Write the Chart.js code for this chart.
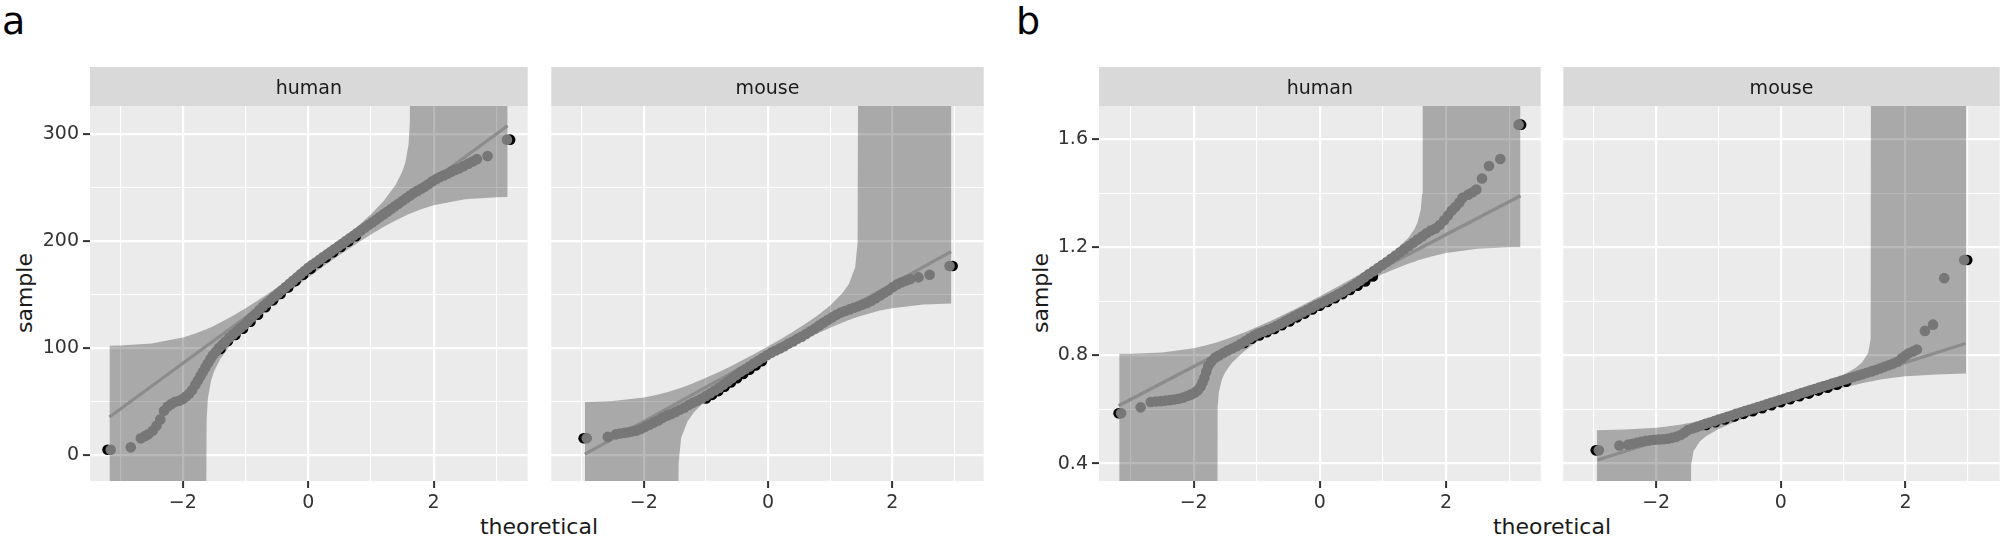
<!DOCTYPE html>
<html>
<head>
<meta charset="utf-8">
<script src="https://cdn.jsdelivr.net/npm/chart.js@4.4.1/dist/chart.umd.min.js"></script>
<style>
  body { margin: 0; background: #fff; width: 2007px; height: 540px; position: relative; overflow: hidden; font-family: "DejaVu Sans", sans-serif; }
  .panel { position: absolute; top: 67px; height: 464px; }
  .tag { position: absolute; top: 2px; font-size: 38px; line-height: 38px; color: #000; }
  .ylab { position: absolute; font-size: 22px; line-height: 22px; color: #1a1a1a; transform: translate(-50%, -50%) rotate(-90deg); white-space: nowrap; }
  .xlab { position: absolute; top: 516px; font-size: 22px; line-height: 22px; color: #1a1a1a; transform: translateX(-50%); white-space: nowrap; }
</style>
</head>
<body>
<div class="tag" style="left:2px">a</div>
<div class="tag" style="left:1016px">b</div>
<div class="ylab" style="left:25px;top:293px">sample</div>
<div class="ylab" style="left:1041px;top:293px">sample</div>
<div class="xlab" style="left:539px">theoretical</div>
<div class="xlab" style="left:1552px">theoretical</div>

<div class="panel" style="left:0px;width:533px"><canvas id="aHuman"></canvas></div>
<div class="panel" style="left:546px;width:443px"><canvas id="aMouse"></canvas></div>
<div class="panel" style="left:1009px;width:537px"><canvas id="bHuman"></canvas></div>
<div class="panel" style="left:1558px;width:447px"><canvas id="bMouse"></canvas></div>

<script>
// tick values (grid lines); only every other one gets a label
const xTicks = [-3, -2, -1, 0, 1, 2, 3];
const yTicksA = [0, 50, 100, 150, 200, 250, 300];
const yTicksB = [0.4, 0.6, 0.8, 1.0, 1.2, 1.4, 1.6];

// ---- panel a, human ----
const haX = [-3.15, -2.83, -2.67, -2.60, -2.55, -2.48, -2.42, -2.36, -2.30, -2.24, -2.18, -2.12, -2.06, -2.00,
  -1.95, -1.90, -1.85, -1.80, -1.76, -1.72, -1.68, -1.64, -1.60, -1.56, -1.52, -1.47, -1.42, -1.37, -1.32, -1.26, -1.20,
  -1.14, -1.08, -1.02, -0.96, -0.90, -0.84, -0.78, -0.72, -0.66, -0.60, -0.54, -0.48, -0.42, -0.36, -0.30, -0.24, -0.18, -0.12, -0.06, 0.00,
  0.06, 0.12, 0.18, 0.24, 0.30, 0.36, 0.42, 0.48, 0.54, 0.60, 0.66, 0.72, 0.78, 0.84, 0.90, 0.96,
  1.02, 1.08, 1.14, 1.20, 1.26, 1.32, 1.38, 1.44, 1.50, 1.56, 1.62, 1.68, 1.74, 1.80, 1.86, 1.92, 1.98,
  2.04, 2.10, 2.16, 2.22, 2.28, 2.34, 2.40, 2.48, 2.55, 2.62, 2.69, 2.86, 3.17];
const haY = [4.6, 6.8, 15.3, 17.5, 19.0, 22.4, 27.0, 33.0, 41.0, 45.0, 47.5, 49.5, 50.5, 52.0,
  54.5, 57.0, 60.5, 65.5, 69.5, 73.5, 77.5, 81.5, 85.5, 89.5, 93.0, 96.5, 100.0, 103.0, 106.0, 109.5, 112.5,
  115.5, 118.5, 121.5, 125.0, 128.5, 132.0, 135.5, 139.0, 142.0, 145.0, 148.0, 151.0, 154.0, 157.0, 160.0, 163.0, 166.0, 169.0, 172.0, 175.0,
  177.5, 180.0, 182.5, 185.0, 187.5, 190.0, 192.5, 195.0, 197.5, 200.0, 202.5, 205.0, 207.5, 210.0, 212.5, 215.0,
  217.5, 220.0, 222.5, 225.0, 227.5, 230.0, 232.5, 235.0, 237.5, 240.0, 242.5, 245.0, 247.0, 249.0, 251.0, 253.5, 256.0,
  258.0, 260.0, 261.5, 263.0, 265.0, 266.5, 268.0, 270.2, 272.5, 274.5, 276.7, 279.6, 295.0];
const haBlackX = [-3.20, -1.40, -1.28, -1.16, -1.04, -0.92, -0.80, -0.68, -0.56, -0.44, -0.32, -0.20, -0.08, 0.04, 0.16, 0.28, 0.40, 0.52, 0.64, 0.76, 3.22];
const haBlackY = [4.6, 99.0, 106.5, 112.0, 118.0, 124.5, 131.0, 138.0, 144.5, 150.5, 156.5, 162.5, 168.5, 174.0, 179.5, 184.5, 189.5, 194.5, 199.5, 204.5, 295.0];
const haLineX = [-3.17, 3.18];
const haLineY = [35.2, 308.0];
const haBandX = [-3.17, -3.0, -2.5, -2.0, -1.8, -1.7, -1.64, -1.63, -1.62, -1.6, -1.55, -1.5, -1.4, -1.2, -1.0, -0.8, -0.6, -0.4, -0.2, 0,
  0.2, 0.4, 0.6, 0.8, 1.0, 1.2, 1.4, 1.5, 1.55, 1.6, 1.62, 1.63, 1.64, 1.7, 1.8, 2.0, 2.5, 3.0, 3.18];
const haBandHi = [102.0, 102.2, 104.1, 109.6, 113.4, 115.7, 117.1, 117.3, 117.6, 118.1, 119.4, 120.8, 123.7, 130.1, 137.0, 144.5, 152.3, 160.3, 168.7, 177.2,
  186.0, 195.1, 204.5, 214.4, 225.1, 237.4, 253.3, 265.1, 273.9, 290.7, 310.9, 400, 400, 400, 400, 400, 400, 400, 400];
const haBandLo = [-100, -100, -100, -100, -100, -100, -100, -100, 32.3, 52.5, 69.3, 78.1, 89.9, 105.8, 118.1, 128.8, 138.7, 148.1, 157.2, 166.0,
  174.5, 182.9, 191.0, 198.7, 206.2, 213.1, 219.5, 222.4, 223.7, 225.1, 225.6, 225.8, 226.0, 227.5, 229.8, 233.6, 239.1, 241.0, 241.2];

// ---- panel a, mouse ----
const maX = [-2.92, -2.58, -2.45, -2.38, -2.31, -2.25, -2.19, -2.12, -2.05, -1.98, -1.91, -1.84, -1.77, -1.70, -1.63, -1.56, -1.49,
  -1.42, -1.35, -1.28, -1.21, -1.14, -1.07, -1.00, -0.93, -0.86, -0.79, -0.72, -0.65, -0.58, -0.51, -0.44, -0.37, -0.30, -0.23, -0.16, -0.09, -0.02,
  0.05, 0.12, 0.19, 0.26, 0.33, 0.40, 0.47, 0.54, 0.61, 0.68, 0.75, 0.82, 0.89, 0.96, 1.03, 1.10, 1.17, 1.24, 1.31, 1.38, 1.45, 1.52, 1.59,
  1.66, 1.73, 1.80, 1.87, 1.94, 2.01, 2.08, 2.15, 2.22, 2.29, 2.42, 2.60, 2.92];
const maY = [15.3, 16.6, 19.0, 19.8, 20.5, 21.0, 21.8, 22.5, 24.0, 26.0, 28.0, 30.0, 32.0, 34.5, 36.5, 38.0, 40.0,
  42.0, 44.0, 46.5, 48.5, 50.5, 52.5, 55.0, 57.5, 60.0, 62.5, 65.5, 68.5, 71.5, 74.5, 77.5, 80.0, 82.5, 85.3, 87.8, 90.5, 93.0,
  95.5, 97.5, 99.5, 101.5, 104.0, 106.0, 108.5, 110.5, 113.0, 115.5, 118.0, 120.8, 123.5, 126.0, 128.5, 131.0, 133.0, 134.5, 136.0, 137.5, 139.0, 140.5, 142.0,
  144.0, 146.5, 149.0, 151.5, 154.0, 157.0, 159.5, 161.5, 163.0, 164.4, 166.0, 168.5, 176.6];
const maBlackX = [-2.97, -1.00, -0.90, -0.80, -0.70, -0.60, -0.50, -0.40, -0.30, -0.20, -0.10, 2.97];
const maBlackY = [15.3, 52.5, 56.0, 59.5, 63.5, 67.5, 71.5, 75.5, 79.5, 83.5, 87.5, 176.6];
const maLineX = [-2.95, 2.945];
const maLineY = [0.4, 190.2];
const maBandX = [-2.95, -2.5, -2.0, -1.8, -1.6, -1.5, -1.46, -1.45, -1.44, -1.4, -1.3, -1.2, -1.0, -0.8, -0.6, -0.4, -0.2, 0,
  0.2, 0.4, 0.6, 0.8, 1.0, 1.2, 1.3, 1.4, 1.44, 1.45, 1.46, 1.6, 1.8, 2.0, 2.5, 2.95];
const maBandHi = [49.2, 50.2, 53.6, 55.9, 59.0, 60.8, 61.5, 61.7, 61.9, 62.7, 64.8, 67.1, 71.9, 77.2, 82.8, 88.8, 95.0, 101.4,
  108.1, 115.1, 122.5, 130.5, 139.7, 151.5, 159.9, 175.2, 198.4, 400, 400, 400, 400, 400, 400, 400];
const maBandLo = [-100, -100, -100, -100, -100, -100, -100, -100, -7.6, 15.6, 30.9, 39.3, 51.1, 60.3, 68.3, 75.7, 82.7, 89.4,
  95.8, 102.0, 108.0, 113.6, 118.9, 123.7, 126.0, 128.1, 128.9, 129.1, 129.3, 131.8, 134.9, 137.2, 140.6, 141.6];

// ---- panel b, human ----
const hbX = [-3.15, -2.84, -2.68, -2.60, -2.52, -2.45, -2.38, -2.31, -2.24, -2.17, -2.10, -2.04, -1.98,
  -1.93, -1.89, -1.86, -1.83, -1.80, -1.77, -1.72, -1.66, -1.60,
  -1.53, -1.46, -1.39, -1.32, -1.25, -1.18, -1.11, -1.04, -0.97, -0.90, -0.83, -0.76, -0.69, -0.62, -0.55, -0.48, -0.41, -0.34, -0.27, -0.20, -0.13, -0.06,
  0.01, 0.08, 0.15, 0.22, 0.29, 0.36, 0.43, 0.50, 0.57, 0.64, 0.71, 0.78, 0.85, 0.92, 0.99, 1.06, 1.13, 1.20, 1.27, 1.34, 1.41, 1.48, 1.55, 1.62, 1.69, 1.76, 1.83, 1.90,
  1.97, 2.03, 2.09, 2.15, 2.21, 2.26, 2.35, 2.42, 2.48, 2.57, 2.68, 2.86, 3.15];
const hbY = [0.586, 0.608, 0.628, 0.630, 0.631, 0.633, 0.635, 0.637, 0.640, 0.644, 0.650, 0.656, 0.663,
  0.672, 0.685, 0.700, 0.718, 0.740, 0.760, 0.778, 0.792, 0.800,
  0.809, 0.818, 0.826, 0.834, 0.843, 0.853, 0.864, 0.874, 0.882, 0.888, 0.894, 0.901, 0.909, 0.917, 0.926, 0.935, 0.944, 0.952, 0.960, 0.968, 0.977, 0.986,
  0.993, 1.001, 1.009, 1.017, 1.026, 1.035, 1.045, 1.055, 1.066, 1.077, 1.089, 1.101, 1.112, 1.123, 1.135, 1.146, 1.158, 1.170, 1.182, 1.194, 1.205, 1.217, 1.229, 1.240, 1.252, 1.262, 1.270, 1.283,
  1.300, 1.318, 1.336, 1.350, 1.366, 1.383, 1.395, 1.404, 1.414, 1.455, 1.501, 1.527, 1.654];
const hbBlackX = [-3.19, -1.20, -1.08, -0.96, -0.84, -0.72, -0.60, -0.48, -0.36, -0.24, -0.12, 0.00, 0.12, 0.24, 0.36, 0.48, 0.60, 0.72, 0.84, 3.19];
const hbBlackY = [0.586, 0.846, 0.862, 0.874, 0.886, 0.898, 0.912, 0.926, 0.941, 0.955, 0.970, 0.984, 0.998, 1.012, 1.027, 1.042, 1.058, 1.074, 1.092, 1.654];
const hbLineX = [-3.19, 3.18];
const hbLineY = [0.614, 1.391];
const hbBandX = [-3.18, -3.0, -2.5, -2.0, -1.8, -1.7, -1.64, -1.63, -1.62, -1.6, -1.55, -1.5, -1.4, -1.2, -1.0, -0.8, -0.6, -0.4, -0.2, 0,
  0.2, 0.4, 0.6, 0.8, 1.0, 1.2, 1.4, 1.5, 1.55, 1.6, 1.62, 1.63, 1.64, 1.7, 1.8, 2.0, 2.5, 3.0, 3.18];
const hbBandHi = [0.806, 0.806, 0.811, 0.827, 0.838, 0.844, 0.848, 0.849, 0.850, 0.851, 0.855, 0.859, 0.867, 0.885, 0.905, 0.926, 0.948, 0.971, 0.995, 1.019,
  1.044, 1.070, 1.096, 1.124, 1.155, 1.190, 1.235, 1.268, 1.293, 1.341, 1.398, 3, 3, 3, 3, 3, 3, 3, 3];
const hbBandLo = [-1, -1, -1, -1, -1, -1, -1, -1, 0.608, 0.665, 0.713, 0.738, 0.771, 0.816, 0.851, 0.882, 0.910, 0.936, 0.962, 0.987,
  1.011, 1.035, 1.058, 1.080, 1.101, 1.121, 1.139, 1.147, 1.151, 1.155, 1.156, 1.157, 1.158, 1.162, 1.168, 1.179, 1.195, 1.200, 1.200];

// ---- panel b, mouse ----
const mbX = [-2.92, -2.59, -2.45, -2.38, -2.31, -2.24, -2.17, -2.10, -2.03, -1.96, -1.89, -1.82, -1.75, -1.68, -1.61, -1.55, -1.49,
  -1.42, -1.35, -1.28, -1.21, -1.14, -1.07, -1.00, -0.93, -0.86, -0.79, -0.72, -0.65, -0.58, -0.51, -0.44, -0.37, -0.30, -0.23, -0.16, -0.09, -0.02,
  0.05, 0.12, 0.19, 0.26, 0.33, 0.40, 0.47, 0.54, 0.61, 0.68, 0.75, 0.82, 0.89, 0.96, 1.03, 1.10, 1.17, 1.24, 1.31, 1.38, 1.45, 1.52, 1.59, 1.66, 1.73, 1.80, 1.87, 1.94,
  2.00, 2.05, 2.12, 2.18, 2.31, 2.44, 2.62, 2.94];
const mbY = [0.449, 0.467, 0.470, 0.473, 0.477, 0.481, 0.484, 0.486, 0.488, 0.489, 0.490, 0.492, 0.495, 0.499, 0.506, 0.514, 0.524,
  0.530, 0.535, 0.541, 0.547, 0.552, 0.557, 0.563, 0.568, 0.573, 0.578, 0.584, 0.589, 0.594, 0.599, 0.604, 0.609, 0.614, 0.619, 0.625, 0.630, 0.635,
  0.640, 0.645, 0.650, 0.655, 0.661, 0.666, 0.671, 0.676, 0.681, 0.686, 0.691, 0.696, 0.701, 0.706, 0.711, 0.716, 0.721, 0.726, 0.731, 0.736, 0.741, 0.746, 0.752, 0.758, 0.764, 0.770, 0.777, 0.790,
  0.800, 0.808, 0.815, 0.822, 0.891, 0.914, 1.086, 1.153];
const mbBlackX = [-2.97, -1.20, -1.05, -0.90, -0.75, -0.60, -0.45, -0.30, -0.15, 0.00, 0.15, 0.30, 0.45, 0.60, 0.75, 0.90, 1.05, 2.99];
const mbBlackY = [0.449, 0.543, 0.553, 0.563, 0.574, 0.584, 0.594, 0.605, 0.616, 0.627, 0.638, 0.649, 0.659, 0.670, 0.681, 0.692, 0.703, 1.153];
const mbLineX = [-2.94, 2.96];
const mbLineY = [0.413, 0.844];
const mbBandX = [-2.95, -2.5, -2.0, -1.8, -1.6, -1.5, -1.46, -1.45, -1.44, -1.4, -1.3, -1.2, -1.0, -0.8, -0.6, -0.4, -0.2, 0,
  0.2, 0.4, 0.6, 0.8, 1.0, 1.2, 1.3, 1.4, 1.44, 1.45, 1.46, 1.6, 1.8, 2.0, 2.5, 2.97];
const mbBandHi = [0.523, 0.526, 0.533, 0.538, 0.545, 0.549, 0.550, 0.551, 0.551, 0.554, 0.559, 0.564, 0.575, 0.587, 0.600, 0.613, 0.627, 0.642,
  0.657, 0.673, 0.689, 0.708, 0.728, 0.755, 0.774, 0.809, 0.862, 3, 3, 3, 3, 3, 3, 3];
const mbBandLo = [-1, -1, -1, -1, -1, -1, -1, -1, 0.394, 0.447, 0.482, 0.501, 0.528, 0.548, 0.567, 0.583, 0.599, 0.614,
  0.629, 0.643, 0.656, 0.669, 0.681, 0.692, 0.697, 0.702, 0.704, 0.704, 0.705, 0.711, 0.718, 0.723, 0.730, 0.733];

function pts(xs, ys) {
  return xs.map((x, i) => ({ x: x, y: ys[i] }));
}

const isMajorX = v => Math.abs(v % 2) < 1e-6;
const isMajorA = v => Math.abs(v % 100) < 1e-6;
const isMajorB = v => Math.abs(Math.round(v * 10)) % 4 === 0;
const fmtNum = s => s.charAt(0) === '-' ? '\u2212' + s.slice(1) : s;

// grey strip with facet name + panel background
const stripPlugin = {
  id: 'strip',
  beforeDraw(chart, args, opts) {
    const { ctx, chartArea } = chart;
    const w = chartArea.right - chartArea.left;
    ctx.save();
    ctx.fillStyle = '#D9D9D9';
    ctx.fillRect(chartArea.left, chartArea.top - 39, w, 39);
    ctx.fillStyle = '#EBEBEB';
    ctx.fillRect(chartArea.left, chartArea.top, w, chartArea.bottom - chartArea.top);
    ctx.fillStyle = '#1A1A1A';
    ctx.font = '19px "DejaVu Sans"';
    ctx.textAlign = 'center';
    ctx.textBaseline = 'alphabetic';
    ctx.fillText(opts.text, chartArea.left + w / 2, chartArea.top - 12);
    ctx.restore();
  }
};

function gridOpts(isMajor) {
  return {
    color: '#FFFFFF',
    lineWidth: c => (c.tick && isMajor(c.tick.value)) ? 2.2 : 1.1,
    tickColor: c => (c.tick && isMajor(c.tick.value)) ? '#333333' : 'rgba(0,0,0,0)',
    tickLength: 7,
    tickWidth: 2
  };
}

function drawPanel(id, p) {
  const yScale = {
    type: 'linear', min: p.ymin, max: p.ymax,
    border: { display: false },
    grid: gridOpts(p.isMajorY),
    afterBuildTicks: s => { s.ticks = p.yTicks.map(v => ({ value: v })); },
    ticks: {
      autoSkip: false, padding: 4,
      color: '#333333', font: { family: 'DejaVu Sans', size: 19 },
      callback: v => p.isMajorY(v) ? p.fmtY(v) : ''
    },
    afterFit: s => { s.width = 90; }
  };
  if (!p.showY) {
    yScale.ticks.display = false;
    yScale.grid.drawTicks = false;
    yScale.afterFit = s => { s.width = 0; };
  }

  new Chart(document.getElementById(id), {
    type: 'scatter',
    data: {
      datasets: [
        { data: pts(p.x, p.y), pointRadius: 5.3, pointBackgroundColor: '#777777', pointBorderColor: 'rgba(0,0,0,0)', pointBorderWidth: 0, order: 0 },
        { data: pts(p.bx, p.by), pointRadius: 5.3, pointBackgroundColor: '#000000', pointBorderColor: 'rgba(0,0,0,0)', pointBorderWidth: 0, order: 1 },
        { data: pts(p.lx, p.ly), showLine: true, borderColor: '#8C8C8C', borderWidth: 3.2, pointRadius: 0, order: 2 },
        { data: pts(p.bandX, p.hi), showLine: true, borderWidth: 0, borderColor: 'rgba(0,0,0,0)', pointRadius: 0,
          fill: '+1', backgroundColor: 'rgba(0,0,0,0.28)', order: 3 },
        { data: pts(p.bandX, p.lo), showLine: true, borderWidth: 0, borderColor: 'rgba(0,0,0,0)', pointRadius: 0, fill: false, order: 4 }
      ]
    },
    options: {
      responsive: true,
      maintainAspectRatio: false,
      animation: false,
      events: [],
      layout: { padding: { top: 39, left: 0, right: 0, bottom: 0 } },
      plugins: {
        legend: { display: false },
        tooltip: { enabled: false },
        strip: { text: p.strip }
      },
      scales: {
        x: {
          type: 'linear', min: p.xmin, max: p.xmax,
          border: { display: false },
          grid: gridOpts(isMajorX),
          afterBuildTicks: s => { s.ticks = xTicks.map(v => ({ value: v })); },
          ticks: {
            autoSkip: false, maxRotation: 0, padding: 4,
            color: '#333333', font: { family: 'DejaVu Sans', size: 19 },
            callback: v => isMajorX(v) ? fmtNum(String(v)) : ''
          },
          afterFit: s => { s.height = 50; }
        },
        y: yScale
      }
    },
    plugins: [stripPlugin]
  });
}

drawPanel('aHuman', { strip: 'human', x: haX, y: haY, bx: haBlackX, by: haBlackY, lx: haLineX, ly: haLineY,
  bandX: haBandX, hi: haBandHi, lo: haBandLo, xmin: -3.48, xmax: 3.50, ymin: -24.7, ymax: 326.5,
  yTicks: yTicksA, isMajorY: isMajorA, fmtY: v => String(v), showY: true });
drawPanel('aMouse', { strip: 'mouse', x: maX, y: maY, bx: maBlackX, by: maBlackY, lx: maLineX, ly: maLineY,
  bandX: maBandX, hi: maBandHi, lo: maBandLo, xmin: -3.49, xmax: 3.47, ymin: -24.7, ymax: 326.5,
  yTicks: yTicksA, isMajorY: isMajorA, fmtY: v => String(v), showY: false });
drawPanel('bHuman', { strip: 'human', x: hbX, y: hbY, bx: hbBlackX, by: hbBlackY, lx: hbLineX, ly: hbLineY,
  bandX: hbBandX, hi: hbBandHi, lo: hbBandLo, xmin: -3.50, xmax: 3.50, ymin: 0.3356, ymax: 1.723,
  yTicks: yTicksB, isMajorY: isMajorB, fmtY: v => v.toFixed(1), showY: true });
drawPanel('bMouse', { strip: 'mouse', x: mbX, y: mbY, bx: mbBlackX, by: mbBlackY, lx: mbLineX, ly: mbLineY,
  bandX: mbBandX, hi: mbBandHi, lo: mbBandLo, xmin: -3.49, xmax: 3.51, ymin: 0.3356, ymax: 1.723,
  yTicks: yTicksB, isMajorY: isMajorB, fmtY: v => v.toFixed(1), showY: false });
</script>
</body>
</html>
